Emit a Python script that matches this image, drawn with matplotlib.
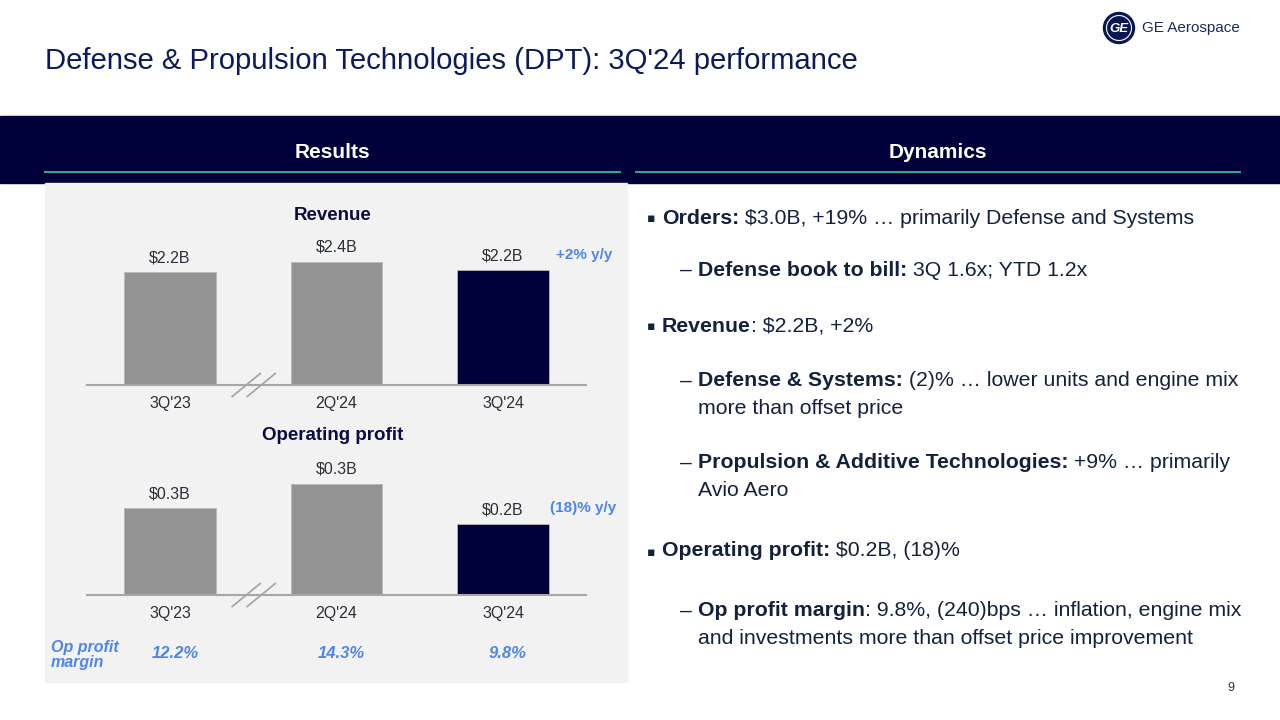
import matplotlib.pyplot as plt
import matplotlib.patches as mpatches
import matplotlib.transforms as mtransforms
from matplotlib import font_manager

plt.rcParams['font.family'] = ['Liberation Sans', 'DejaVu Sans']

# ---- data ----
quarters = ["3Q'23", "2Q'24", "3Q'24"]
revenue = [2.2, 2.4, 2.24]
revenue_labels = ["$2.2B", "$2.4B", "$2.2B"]
op_profit = [0.268, 0.343, 0.219]
op_profit_labels = ["$0.3B", "$0.3B", "$0.2B"]
op_margin = ["12.2%", "14.3%", "9.8%"]
revenue_change = "+2% y/y"
op_profit_change = "(18)% y/y"

# right hand commentary: (y px, level, [(text, bold), ...])
dynamics = [
    (218, 0, [("Orders:", True), (" $3.0B, +19% \u2026 primarily Defense and Systems", False)]),
    (270, 1, [("Defense book to bill:", True), (" 3Q 1.6x; YTD 1.2x", False)]),
    (326, 0, [("Revenue", True), (": $2.2B, +2%", False)]),
    (381, 1, [("Defense & Systems:", True), (" (2)% \u2026 lower units and engine mix", False)]),
    (408, 2, [("more than offset price", False)]),
    (463, 1, [("Propulsion & Additive Technologies:", True), (" +9% \u2026 primarily", False)]),
    (491, 2, [("Avio Aero", False)]),
    (551, 0, [("Operating profit:", True), (" $0.2B, (18)%", False)]),
    (611, 1, [("Op profit margin", True), (": 9.8%, (240)bps \u2026 inflation, engine mix", False)]),
    (638, 2, [("and investments more than offset price improvement", False)]),
]

NAVY = '#00003a'
GREY_BAR = '#939393'
BLUE = '#4f86e8'
TXT = '#14213d'
W, H = 1280, 720

# narrow face for the logo text if there is one
try:
    font_manager.findfont('Liberation Sans Narrow', fallback_to_default=False)
    logo_font = ['Liberation Sans Narrow']
    logo_size = 13
except Exception:
    logo_font = ['Liberation Sans']
    logo_size = 11

fig = plt.figure(figsize=(12.8, 7.2), dpi=100)
bg = fig.add_axes([0, 0, 1, 1])
bg.set_xlim(0, W)
bg.set_ylim(H, 0)
bg.axis('off')


def rect(left, top, right, bottom):
    return [left / W, 1 - bottom / H, (right - left) / W, (bottom - top) / H]


# title + logo
bg.text(45, 61, "Defense & Propulsion Technologies (DPT): 3Q'24 performance",
        fontsize=21.1, color='#0c1a5c', va='center', ha='left')
bg.add_patch(mpatches.Circle((1119, 28), 15.5, color='#0a1650'))
bg.add_patch(mpatches.Circle((1119, 28), 12.5, fill=False, ec='white', lw=0.8))
bg.text(1119, 28.5, "GE", color='white', fontsize=9.5, fontweight='bold', style='italic',
        ha='center', va='center')
bg.text(1142, 28, "GE Aerospace", color='#1b2a5a', fontsize=logo_size, ha='left', va='center',
        family=logo_font)

# header band
bg.add_patch(mpatches.Rectangle((0, 116), W, 67, color=NAVY))
bg.text(332, 152, "Results", color='white', fontsize=15, fontweight='bold', ha='center', va='center')
bg.text(938, 152, "Dynamics", color='white', fontsize=15, fontweight='bold', ha='center', va='center')
bg.plot([45, 620], [172, 172], color='#2fa88a', lw=1.5)
bg.plot([636, 1240], [172, 172], color='#2fa88a', lw=1.5)

# grey panel
bg.add_patch(mpatches.Rectangle((45, 183), 582, 499, color='#f2f2f2'))

bar_colors = [GREY_BAR, GREY_BAR, NAVY]
x = list(range(len(quarters)))


def bar_panel(pos, values, labels, ylim, title, title_y):
    ax = fig.add_axes(rect(*pos))
    ax.set_facecolor('none')
    ax.bar(x, values, width=0.55, color=bar_colors, edgecolor='#b8b8b8', linewidth=0.6)
    ax.bar_label(ax.containers[0], labels=labels, padding=5, fontsize=11.5, color='#2b2f3a')
    ax.set_xlim(-0.5, 2.5)
    ax.set_ylim(*ylim)
    ax.set_xticks(x)
    ax.set_xticklabels(quarters, fontsize=11.5, color='#2b2f3a')
    ax.tick_params(axis='x', length=0, pad=8)
    ax.set_yticks([])
    for s in ['top', 'left', 'right']:
        ax.spines[s].set_visible(False)
    ax.spines['bottom'].set_color('#a6a6a6')
    ax.spines['bottom'].set_linewidth(1.5)
    bg.text(333, title_y, title, fontsize=13.5, fontweight='bold', color='#0b0b45',
            ha='center', va='center')
    # axis break marks between 3Q'23 and 2Q'24
    sx = (pos[2] - pos[0]) / 3.0
    sy = (pos[3] - pos[1]) / (ylim[1] - ylim[0])
    for off in (-7, 8):
        cx = 0.5 + off / sx
        ax.plot([cx - 14 / sx, cx + 14 / sx], [-11.5 / sy, 11.5 / sy], color='#a6a6a6',
                lw=1.3, clip_on=False)
    return ax


ax1 = bar_panel((86.75, 231, 586.25, 385), revenue, revenue_labels, (0, 3.0), "Revenue", 215)
ax2 = bar_panel((86.75, 449, 586.25, 595), op_profit, op_profit_labels, (0, 0.45),
                "Operating profit", 436)

bg.text(584, 255, revenue_change, color=BLUE, fontsize=11, fontweight='bold', ha='center', va='center')
bg.text(583, 508, op_profit_change, color=BLUE, fontsize=11, fontweight='bold', ha='center', va='center')

# op profit margin row
bg.text(51, 655, "Op profit\nmargin", color=BLUE, fontsize=11.5, fontweight='bold', style='italic',
        ha='left', va='center', linespacing=1.0)
blend = mtransforms.blended_transform_factory(ax2.transData, bg.transData)
for i, m in enumerate(op_margin):
    ax2.text(i + 0.03, 653, m, transform=blend, color=BLUE, fontsize=12, fontweight='bold',
             style='italic', ha='center', va='center')

# dynamics text
fig.canvas.draw()
renderer = fig.canvas.get_renderer()
indent = {0: 662, 1: 698, 2: 698}
for y, level, runs in dynamics:
    if level == 0:
        bg.text(647, y + 1, "\u25aa", fontsize=9, color=TXT, ha='left', va='center',
                family=['DejaVu Sans'])
    elif level == 1:
        bg.text(680, y, "\u2013", fontsize=15.3, color=TXT, ha='left', va='center')
    xpos = indent[level]
    for txt, bold in runs:
        t = bg.text(xpos, y, txt, fontsize=15.3, color=TXT, ha='left', va='center',
                    fontweight='bold' if bold else 'normal')
        bb = t.get_window_extent(renderer=renderer)
        xpos = bb.x1

bg.text(1231, 688, "9", fontsize=9, color='#333333', ha='center', va='center')

fig.savefig('out.png', dpi=100)
